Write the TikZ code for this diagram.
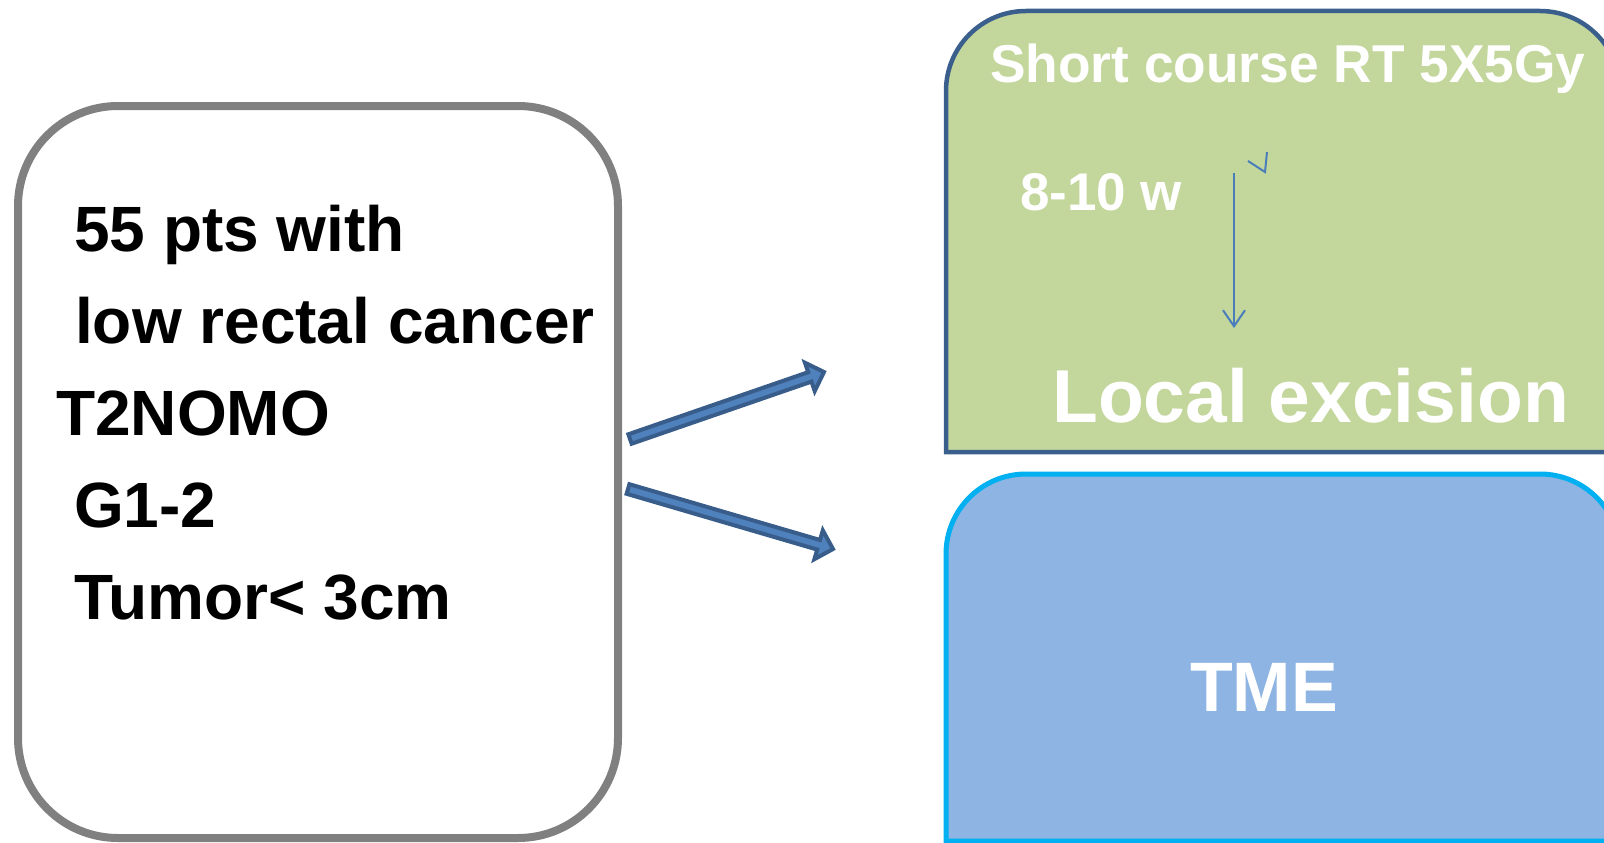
\documentclass[tikz,border=0pt]{standalone}
\usepackage{fontspec}
\setmainfont{Liberation Sans}
\usetikzlibrary{calc,arrows.meta}
\definecolor{boxgray}{HTML}{808080}
\definecolor{greenfill}{HTML}{C3D69B}
\definecolor{greenline}{HTML}{3B5F8C}
\definecolor{bluefill}{HTML}{8EB4E3}
\definecolor{blueline}{HTML}{00B0F0}
\definecolor{arrowfill}{HTML}{4F81BD}
\definecolor{arrowline}{HTML}{385D8A}
\definecolor{thinblue}{HTML}{4A7EBB}
\begin{document}
\begin{tikzpicture}[x=1pt,y=-1pt,
  blacktext/.style={anchor=base west,inner sep=0pt,text=black,font=\fontsize{64}{64}\selectfont\bfseries},
  whitetext/.style={anchor=base west,inner sep=0pt,text=white},
  blockarrow/.style={fill=arrowfill,draw=arrowline,line width=4pt,line join=miter},
  thinarrow/.style={draw=thinblue,line width=2pt,-{Straight Barb[length=16pt,width=22pt,line width=2pt]}}
]
\useasboundingbox (0,0) rectangle (1604,843);
\clip (0,0) rectangle (1604,843);

% left box
\node[draw=boxgray,line width=8pt,rounded corners=100pt,minimum width=600pt,minimum height=732pt,inner sep=0pt] (pts) at (318,472) {};
\node[blacktext] (l1) at (74,251) {55 pts with};
\node[blacktext] (l2) at (75,343) {low rectal cancer};
\node[blacktext] (l3) at (56,435) {T2NOMO};
\node[blacktext] (l4) at (74,527) {G1-2};
\node[blacktext] (l5) at (74,619) {Tumor< 3cm};

% green box (rounded top corners only)
\draw[fill=greenfill,draw=greenline,line width=4.5pt]
  (946,452) -- (946,91) arc(180:270:80) -- (1540,11) arc(270:360:80) -- (1620,452) -- cycle;
\node[whitetext,font=\fontsize{53.3}{53.3}\selectfont\bfseries] (rt) at (990,82) {Short course RT 5X5Gy};
\node[whitetext,font=\fontsize{53}{53}\selectfont\bfseries] (wk) at (1020,210) {8-10 w};
\node[whitetext,font=\fontsize{75}{75}\selectfont\bfseries] (le) at (1052,422) {Local excision};

% blue box
\draw[fill=bluefill,draw=blueline,line width=5pt]
  (946,841) -- (946,554) arc(180:270:80) -- (1540,474) arc(270:360:80) -- (1620,841) -- cycle;
\node[whitetext,font=\fontsize{70}{70}\selectfont\bfseries] (tme) at (1190,711) {TME};

% thin arrow and mark
\coordinate (ta) at (1234,173);
\coordinate (tb) at (1234,328);
\draw[thinarrow] (ta) -- (tb);
\draw[thinblue,line width=2pt] (1248,161) -- (1265,172) -- (1267,152);

% block arrows
\coordinate (t1) at (630,439);
\coordinate (h1) at (824,372);
\coordinate (t2) at (628,489);
\coordinate (h2) at (833,549);
\foreach \T/\H in {t1/h1,t2/h2}{
  \coordinate (B) at ($(\H)!15pt!(\T)$);
  \draw[blockarrow]
    ($(\T)!5pt!90:(\H)$) -- ($(B)!5pt!-90:(\T)$) -- ($(B)!15pt!-90:(\T)$) -- (\H)
    -- ($(B)!15pt!90:(\T)$) -- ($(B)!5pt!90:(\T)$) -- ($(\T)!5pt!-90:(\H)$) -- cycle;
}
\end{tikzpicture}
\end{document}
